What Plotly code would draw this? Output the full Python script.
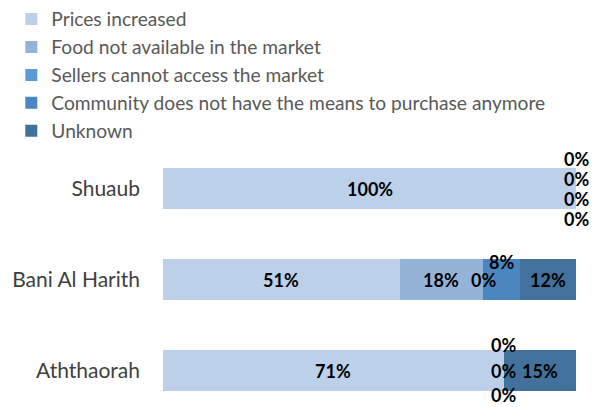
import plotly.graph_objects as go

categories = ["Shuaub", "Bani Al Harith", "Aththaorah"]
series_names = [
    "Prices increased",
    "Food not available in the market",
    "Sellers cannot access the market",
    "Community does not have the means to purchase anymore",
    "Unknown",
]
prices_increased = [100, 51, 71]
food_not_available = [0, 18, 0]
sellers_no_access = [0, 0, 0]
community_no_means = [0, 8, 0]
unknown = [0, 12, 15]

series_values = [prices_increased, food_not_available, sellers_no_access,
                 community_no_means, unknown]
colors = ["#bcd0ea", "#95b3d8", "#5b9bd5", "#4c86bf", "#41719c"]

# vertical shifts (px) to keep overlapping labels apart, like the original
label_shift = {
    (0, 1): 30, (0, 2): 10, (0, 3): -10, (0, 4): -30,
    (1, 3): 18,
    (2, 1): 26, (2, 2): 0, (2, 3): -24,
}

FONT = "Lato"
fig = go.Figure()
totals = [sum(s[i] for s in series_values) for i in range(len(categories))]
for name, vals, col in zip(series_names, series_values, colors):
    norm = [v / t * 100 for v, t in zip(vals, totals)]
    fig.add_trace(go.Bar(
        y=categories, x=norm, name=name, orientation="h",
        marker=dict(color=col, line=dict(width=0)), width=0.45,
        hoverinfo="skip",
    ))

annotations = []
for ci, cat in enumerate(categories):
    cum = 0.0
    for si, vals in enumerate(series_values):
        w = vals[ci] / totals[ci] * 100
        annotations.append(dict(
            x=cum + w / 2, y=cat, xref="x", yref="y",
            text=f"<b>{vals[ci]}%</b>", showarrow=False,
            yshift=label_shift.get((ci, si), 0),
            font=dict(family=FONT, size=18, color="#000000"),
        ))
        cum += w

fig.update_layout(
    template="none",
    barmode="stack",
    width=595, height=407,
    margin=dict(l=163, r=19, t=168 - 23, b=7, autoexpand=False),
    paper_bgcolor="white", plot_bgcolor="white",
    font=dict(family=FONT, size=19, color="#595959"),
    showlegend=True,
    legend=dict(
        xref="container", yref="container", x=0.019, y=1.017,
        xanchor="left", yanchor="top", traceorder="normal",
        font=dict(family=FONT, size=19.2, color="#595959"),
        itemclick=False, tracegroupgap=0, bgcolor="rgba(0,0,0,0)",
    ),
    xaxis=dict(range=[0, 100], visible=False, fixedrange=True,
               automargin=False, showgrid=False, zeroline=False),
    yaxis=dict(
        range=[2.32, -0.48], type="category", showgrid=False,
        showline=False, ticks="", ticklabelstandoff=22, automargin=False,
        zeroline=False, fixedrange=True,
        tickfont=dict(family=FONT, size=21, color="#404040"),
    ),
    annotations=annotations,
)

fig.write_html("out.html", config={"displayModeBar": False, "staticPlot": True})
with open("out.html", encoding="utf-8") as f:
    html = f.read()
html = html.replace("<body>", '<body style="margin:0;padding:0;">', 1)
with open("out.html", "w", encoding="utf-8") as f:
    f.write(html)
